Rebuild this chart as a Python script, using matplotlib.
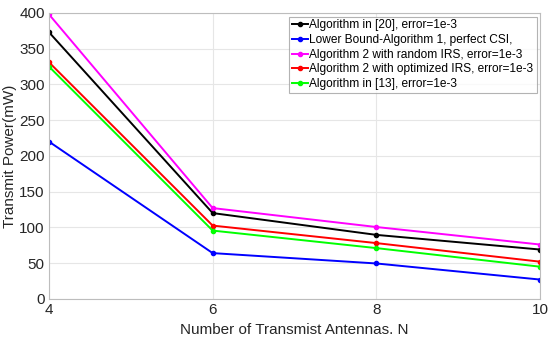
import matplotlib
matplotlib.use("Agg")
from matplotlib import pyplot as plt

plt.rcParams['font.family'] = ['Liberation Sans', 'DejaVu Sans']

N = [4, 6, 8, 10]
alg20 = [373, 120, 89.5, 69]
lower = [220, 64, 49.5, 27]
alg2_rand = [398, 127, 100.5, 76]
alg2_opt = [331, 102.5, 78, 52]
alg13 = [325, 95.5, 71, 45]

labels = ['Algorithm in [20], error=1e-3',
          'Lower Bound-Algorithm 1, perfect CSI,',
          'Algorithm 2 with random IRS, error=1e-3',
          'Algorithm 2 with optimized IRS, error=1e-3',
          'Algorithm in [13], error=1e-3']
colors = ['black', 'blue', 'magenta', 'red', 'lime']
series = [alg20, lower, alg2_rand, alg2_opt, alg13]

fig = plt.figure(figsize=(5.5, 3.4), dpi=100)
ax = fig.add_axes([0.089, 0.121, 0.893, 0.841])

for y, c, lab in zip(series, colors, labels):
    ax.plot(N, y, color=c, marker='o', markersize=3, linewidth=1.4, label=lab)

ax.set_xlim(4, 10)
ax.set_ylim(0, 400)
ax.set_xticks([4, 6, 8, 10])
ax.set_yticks(range(0, 401, 50))
ax.grid(True, color='#e6e6e6', linewidth=0.8)
ax.set_axisbelow(True)
for s in ax.spines.values():
    s.set_color('#bdbdbd')
ax.tick_params(colors='#bdbdbd', labelcolor='#262626', labelsize=11, length=0, pad=3)
ax.set_xlabel('Number of Transmist Antennas. N', fontsize=11, color='#262626')
ax.set_ylabel('Transmit Power(mW)', fontsize=11, color='#262626', labelpad=2)

leg = ax.legend(loc='upper right', fontsize=8.6, frameon=True, fancybox=False,
                handlelength=1.3, handletextpad=0.15, borderpad=0.25,
                labelspacing=0.22, borderaxespad=0.3)
leg.get_frame().set_edgecolor('#a0a0a0')
leg.get_frame().set_linewidth(0.8)

fig.savefig('out.png', dpi=100)
